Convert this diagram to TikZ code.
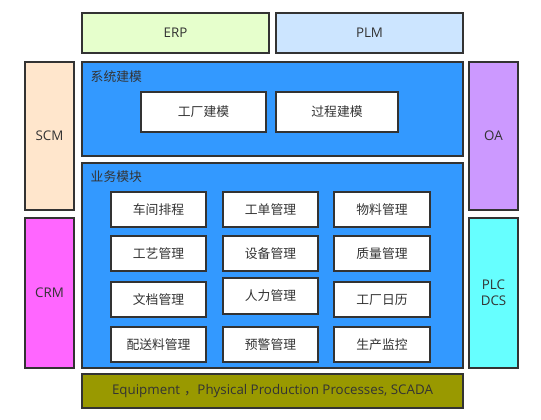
\documentclass[tikz,border=0pt]{standalone}
\usepackage{fontspec}
\setmainfont{Open Sans}
\newfontfamily\cjk{Noto Sans CJK SC}
\definecolor{strk}{HTML}{333333}
\definecolor{erpc}{HTML}{E6FFCC}
\definecolor{plmc}{HTML}{CCE5FF}
\definecolor{scmc}{HTML}{FFE6CC}
\definecolor{crmc}{HTML}{FF66FF}
\definecolor{oac}{HTML}{CC99FF}
\definecolor{plcc}{HTML}{66FFFF}
\definecolor{bluec}{HTML}{3399FF}
\definecolor{eqc}{HTML}{999900}
\tikzset{
  blk/.style={draw=strk, line width=1.5pt, text=strk, font=\fontsize{10}{12}\selectfont},
  cn/.style={font=\cjk\fontsize{9.6}{11}\selectfont, text=strk},
  modbox/.style={draw=strk, line width=1.5pt, fill=white},
}
\begin{document}
\begin{tikzpicture}[x=0.75pt,y=-0.75pt]
\useasboundingbox (0,0) rectangle (541,419);
% top
\draw[blk, fill=erpc] (82,13) rectangle (269,53) node[midway] (erp) {ERP};
\draw[blk, fill=plmc] (276,13) rectangle (463,53) node[midway] (plm) {PLM};
% sides
\draw[blk, fill=scmc] (25,62) rectangle (74,210) node[midway] (scm) {SCM};
\draw[blk, fill=crmc] (25,218) rectangle (74,368) node[midway] (crm) {CRM};
\draw[blk, fill=oac] (469,62) rectangle (518,210) node[midway] (oa) {OA};
\draw[blk, fill=plcc] (469,218) rectangle (518,368) node[midway, align=center, font=\fontsize{10}{12}\selectfont] (plc) {PLC\\DCS};
% system modeling
\draw[blk, fill=bluec] (82,62) rectangle (463,156);
\node[cn, anchor=west] (sysm) at (86,77) {系统建模};
\draw[modbox] (141,92) rectangle (266,132) node[midway, cn] (gcjm) {工厂建模};
\draw[modbox] (276,92) rectangle (398,132) node[midway, cn] (gcjm2) {过程建模};
% business modules
\draw[blk, fill=bluec] (82,163) rectangle (463,368);
\node[cn, anchor=west] (ywmk) at (86,177) {业务模块};
\draw[modbox] (111,192) rectangle (206,227) node[midway, cn] (m11) {车间排程};
\draw[modbox] (223,192) rectangle (318,227) node[midway, cn] (m12) {工单管理};
\draw[modbox] (334,192) rectangle (430,227) node[midway, cn] (m13) {物料管理};
\draw[modbox] (111,236) rectangle (206,271) node[midway, cn] (m21) {工艺管理};
\draw[modbox] (223,236) rectangle (318,271) node[midway, cn] (m22) {设备管理};
\draw[modbox] (334,236) rectangle (430,271) node[midway, cn] (m23) {质量管理};
\draw[modbox] (111,282) rectangle (206,317) node[midway, cn] (m31) {文档管理};
\draw[modbox] (223,278) rectangle (318,314) node[midway, cn] (m32) {人力管理};
\draw[modbox] (334,282) rectangle (430,317) node[midway, cn] (m33) {工厂日历};
\draw[modbox] (111,327) rectangle (206,362) node[midway, cn] (m41) {配送料管理};
\draw[modbox] (223,327) rectangle (318,362) node[midway, cn] (m42) {预警管理};
\draw[modbox] (334,327) rectangle (430,362) node[midway, cn] (m43) {生产监控};
% equipment
\draw[blk, fill=eqc] (82,374) rectangle (463,408) node[midway] (eq) {Equipment\hspace{0.3em}{\cjk ，}Physical Production Processes, SCADA};
\end{tikzpicture}
\end{document}
